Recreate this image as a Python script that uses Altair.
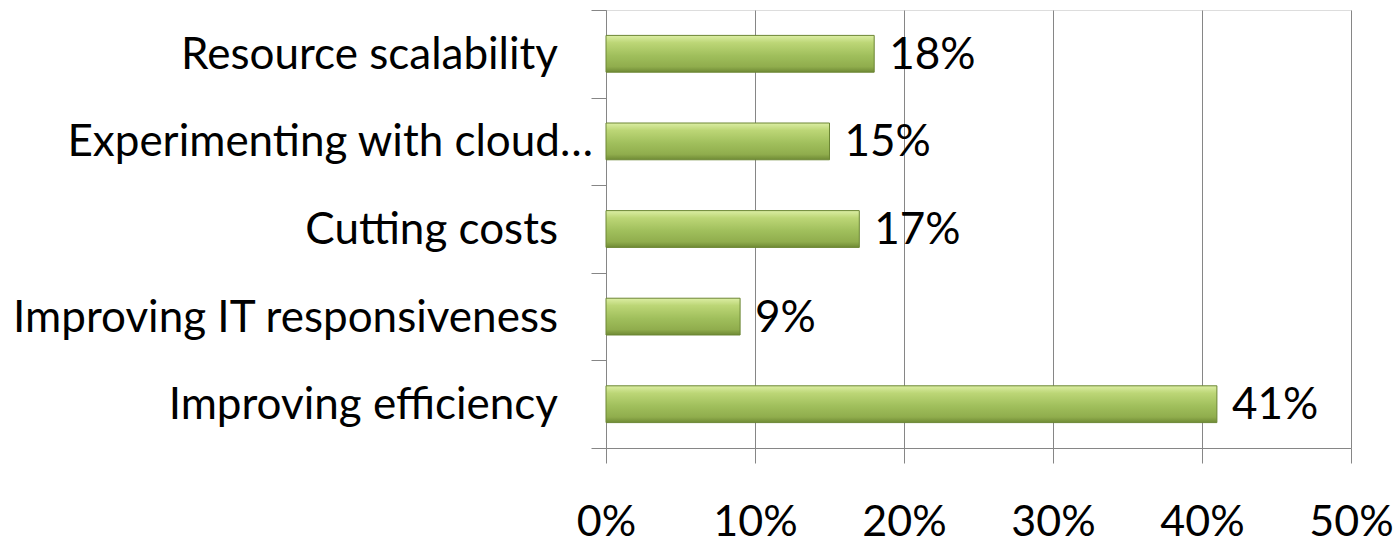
import altair as alt
import pandas as pd

categories = [
    "Resource scalability",
    "Experimenting with cloud…",
    "Cutting costs",
    "Improving IT responsiveness",
    "Improving efficiency",
]
values = [18, 15, 17, 9, 41]
value_labels = ["18%", "15%", "17%", "9%", "41%"]
x_ticks = [0, 10, 20, 30, 40, 50]

df = pd.DataFrame({"cat": categories, "val": values, "lab": value_labels})

FONT = "Lato"
FS = 44
GRAY = "#868686"

y_enc = alt.Y(
    "cat:N",
    sort=categories,
    scale=alt.Scale(paddingInner=0, paddingOuter=0),
    axis=alt.Axis(
        title=None,
        labels=False,
        tickBand="extent",
        tickSize=15,
        tickColor=GRAY,
        domainColor=GRAY,
        grid=False,
    ),
)
x_enc = alt.X(
    "val:Q",
    scale=alt.Scale(domain=[0, 50], nice=False),
    axis=alt.Axis(
        title=None,
        values=x_ticks,
        labelExpr="datum.value + '%'",
        labelFont=FONT,
        labelFontSize=43,
        labelColor="#000000",
        labelFlush=False,
        labelPadding=38,
        tickSize=15,
        tickColor=GRAY,
        domainColor=GRAY,
        gridColor=GRAY,
        grid=True,
    ),
)

grad = alt.Gradient(
    gradient="linear",
    x1=0, y1=0, x2=0, y2=1,
    stops=[
        alt.GradientStop(offset=0, color="#dcee a4".replace(" ", "")),
        alt.GradientStop(offset=0.2, color="#bcd676"),
        alt.GradientStop(offset=0.55, color="#a0bf5c"),
        alt.GradientStop(offset=0.85, color="#90ad4d"),
        alt.GradientStop(offset=1, color="#6f8a35"),
    ],
)

bars = alt.Chart(df).mark_bar(
    color=grad, stroke="#6c8634", strokeWidth=1, height=alt.RelativeBandSize(0.42)
).encode(x=x_enc, y=y_enc)

val_text = alt.Chart(df).mark_text(
    align="left", baseline="middle", dx=15, dy=2, font=FONT, fontSize=FS, color="#000000"
).encode(x="val:Q", y=alt.Y("cat:N", sort=categories), text="lab:N")

long_label = "Experimenting with cloud…"
cat_text = alt.Chart(df).transform_filter(
    alt.datum.cat != long_label
).mark_text(
    align="right", baseline="middle", font=FONT, fontSize=FS, color="#000000", dy=2
).encode(x=alt.value(-48), y=alt.Y("cat:N", sort=categories), text="cat:N")

cat_text_long = alt.Chart(df).transform_filter(
    alt.datum.cat == long_label
).mark_text(
    align="right", baseline="middle", font=FONT, fontSize=FS, color="#000000", dy=2
).encode(x=alt.value(-13), y=alt.Y("cat:N", sort=categories), text="cat:N")

chart = alt.layer(bars, val_text, cat_text, cat_text_long).properties(
    width=745,
    height=438,
    autosize=alt.AutoSizeParams(type="none"),
    padding={"left": 606, "top": 10, "right": 44, "bottom": 95},
).configure_view(stroke=None).configure(background="white")

chart.save("out.html", embed_options={"renderer": "svg", "actions": False})
